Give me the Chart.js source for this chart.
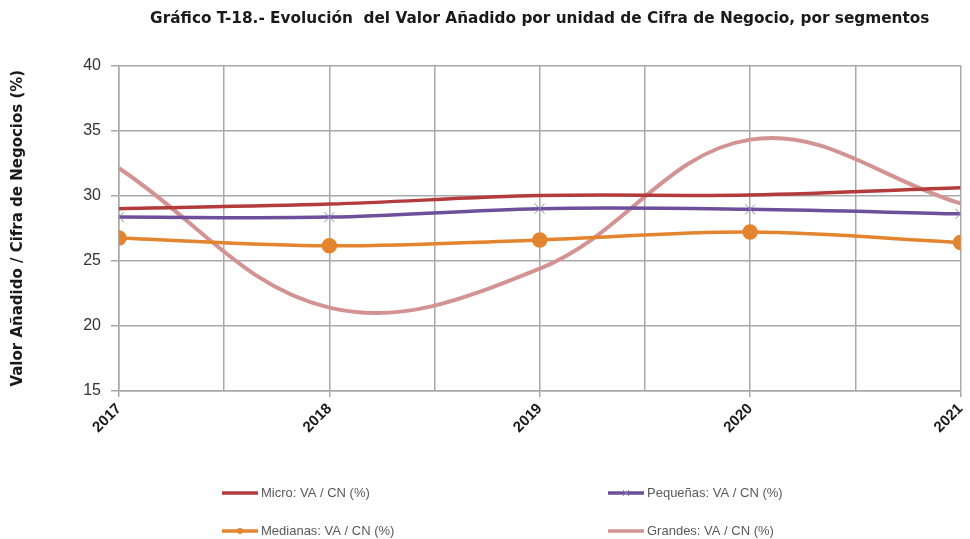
<!DOCTYPE html>
<html>
<head>
<meta charset="utf-8">
<script src="https://cdn.jsdelivr.net/npm/chart.js@4"></script>
<style>
html,body{margin:0;padding:0;background:#fff;}
#wrap{width:970px;height:539px;position:relative;}
</style>
</head>
<body>
<div id="wrap"><canvas id="c" width="970" height="539"></canvas></div>
<script>
const years = [2017, 2018, 2019, 2020, 2021];
const micro = [29.0, 29.35, 30.0, 30.05, 30.6];
const pequenas = [28.35, 28.35, 29.0, 28.95, 28.6];
const medianas = [26.75, 26.15, 26.6, 27.2, 26.4];
const grandes = [32.1, 21.4, 24.4, 34.3, 29.4];
const seriesNames = ['Micro: VA / CN (%)', 'Pequeñas: VA / CN (%)', 'Medianas: VA / CN (%)', 'Grandes: VA / CN (%)'];
const yTicks = [15, 20, 25, 30, 35, 40];
const titleText = 'Gráfico T-18.- Evolución  del Valor Añadido por unidad de Cifra de Negocio, por segmentos';
const yTitle = 'Valor Añadido / Cifra de Negocios (%)';

const toPts = arr => years.map((x, i) => ({x: x, y: arr[i]}));

const legendPlugin = {
  id: 'customLegend',
  afterDraw(chart) {
    const ctx = chart.ctx;
    const pos = [[222, 493], [608, 493], [222, 531], [608, 531]];
    ctx.save();
    chart.data.datasets.forEach((ds, i) => {
      const [x, y] = pos[i];
      ctx.strokeStyle = ds.borderColor;
      ctx.lineWidth = 3.5;
      ctx.beginPath();
      ctx.moveTo(x, y);
      ctx.lineTo(x + 36, y);
      ctx.stroke();
      if (ds.pointStyle === 'crossRot') {
        ctx.strokeStyle = ds.pointBorderColor;
        ctx.lineWidth = 1;
        ctx.beginPath();
        ctx.moveTo(x + 15, y - 3); ctx.lineTo(x + 21, y + 3);
        ctx.moveTo(x + 21, y - 3); ctx.lineTo(x + 15, y + 3);
        ctx.stroke();
      } else if (ds.pointStyle === 'circle' && ds.pointRadius > 0) {
        ctx.fillStyle = ds.pointBackgroundColor;
        ctx.beginPath();
        ctx.arc(x + 18, y, 3, 0, Math.PI * 2);
        ctx.fill();
      }
      ctx.fillStyle = '#595959';
      ctx.font = '13px "Liberation Sans", Arial, sans-serif';
      ctx.textBaseline = 'middle';
      ctx.textAlign = 'left';
      ctx.fillText(ds.label, x + 39, y);
    });
    ctx.restore();
  }
};

new Chart(document.getElementById('c'), {
  type: 'line',
  data: {
    datasets: [
      {label: seriesNames[0], data: toPts(micro), borderColor: '#b33b3b', borderWidth: 3.5, pointRadius: 0, tension: 0.35, pointStyle: 'circle'},
      {label: seriesNames[1], data: toPts(pequenas), borderColor: '#6d4f9b', borderWidth: 3.5, pointRadius: 7, pointStyle: 'crossRot', pointBorderColor: '#8c84bd', pointBackgroundColor: '#8c84bd', pointBorderWidth: 1, tension: 0.35},
      {label: seriesNames[2], data: toPts(medianas), borderColor: '#e3842f', borderWidth: 3.5, pointRadius: 6, pointStyle: 'circle', pointBackgroundColor: '#e3842f', pointBorderColor: '#e3842f', tension: 0.35},
      {label: seriesNames[3], data: toPts(grandes), borderColor: '#d39393', borderWidth: 4, pointRadius: 0, tension: 0.38, pointStyle: 'line'}
    ]
  },
  options: {
    responsive: false,
    animation: false,
    layout: {padding: {left: 0, right: 5, top: 0, bottom: 0}},
    plugins: {
      legend: {display: false},
      tooltip: {enabled: false},
      title: {
        display: true,
        fullSize: false,
        text: titleText,
        color: '#1a1a1a',
        font: {family: '"DejaVu Sans", sans-serif', size: 15.3, weight: 'bold'},
        padding: {top: 10, bottom: 37}
      }
    },
    scales: {
      x: {
        type: 'linear',
        min: 2017, max: 2021,
        afterBuildTicks: s => { const t = []; for (let v = 2017; v <= 2021.001; v += 0.5) t.push({value: v}); s.ticks = t; },
        afterFit: s => {
          s.height = 148; s.paddingRight = 0;
          if (s._margins) s._margins.right = 0;
        },
        grid: {
          color: '#a9a9a9', lineWidth: 1.5, drawTicks: true, tickLength: 6,
          tickColor: c => (c.tick && Number.isInteger(c.tick.value)) ? '#a9a9a9' : 'rgba(0,0,0,0)'
        },
        border: {color: '#a9a9a9', width: 1.5},
        ticks: {
          autoSkip: false, minRotation: 45, maxRotation: 45,
          color: '#1a1a1a',
          font: {family: '"Liberation Sans", Arial, sans-serif', size: 15, weight: 'bold'},
          callback: v => Number.isInteger(v) ? String(years.find(y => y === v)) : ''
        }
      },
      y: {
        min: yTicks[0], max: yTicks[yTicks.length - 1],
        afterBuildTicks: s => { s.ticks = yTicks.map(v => ({value: v})); },
        afterFit: s => { s.width = 119; },
        grid: {color: '#a9a9a9', lineWidth: 1.5, tickLength: 8},
        border: {color: '#a9a9a9', width: 1.5},
        ticks: {
          color: '#333333', padding: 10,
          font: {family: '"Liberation Sans", Arial, sans-serif', size: 16}
        },
        title: {
          display: true, text: yTitle, color: '#1a1a1a',
          font: {family: '"DejaVu Sans", sans-serif', size: 15, weight: 'bold'},
          padding: {top: 9, bottom: 0}
        }
      }
    }
  },
  plugins: [legendPlugin]
});
</script>
</body>
</html>
